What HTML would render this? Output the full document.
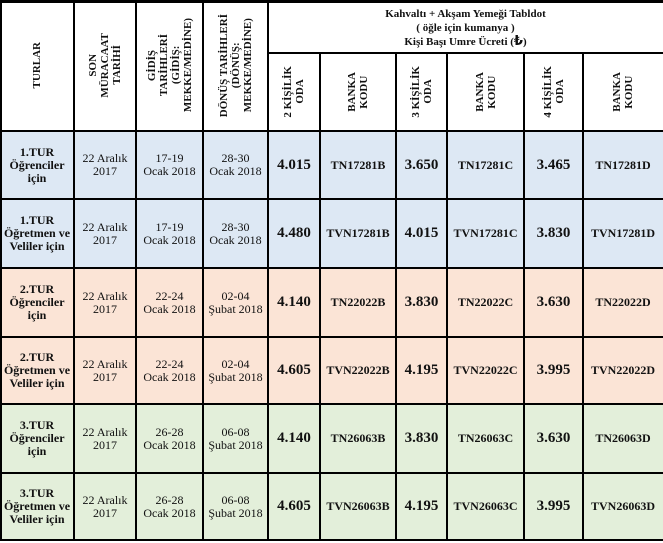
<!DOCTYPE html>
<html><head><meta charset="utf-8"><style>
body{margin:0;background:#fff;width:663px;height:543px;overflow:hidden;position:relative;font-family:"Liberation Serif",serif;font-weight:bold;color:#111}
.r{position:absolute;left:0;width:663px}
.c{position:absolute;top:0;height:100%;display:flex;align-items:center;justify-content:center;text-align:center;font-size:12px;line-height:13px}
.c0{left:0;width:74px}.c1{left:74px;width:62px}.c2{left:136px;width:67px}.c3{left:203px;width:65px}
.c4{left:268px;width:52px}.c5{left:320px;width:76px}.c6{left:396px;width:51px}.c7{left:447px;width:77px}
.c8{left:524px;width:59px}.c9{left:583px;width:80px}
.n{font-weight:normal}
.p{font-size:15px}
.v{writing-mode:vertical-rl;transform:rotate(180deg);font-size:11px;line-height:12px}
.b{background:#dde8f4}.s{background:#fbe4d6}.g{background:#e3efda}
.hl{position:absolute;background:#000;height:2px}
.vl{position:absolute;background:#000;width:2px}
.t{display:block;white-space:nowrap}
</style></head><body>
<div class="r" style="top:0;height:131px">
<div class="c c0"><span class="v">TURLAR</span></div>
<div class="c c1"><span class="v">SON<br>MÜRACAAT<br>TARİHİ</span></div>
<div class="c c2"><span class="v">GİDİŞ<br>TARİHLERİ<br>(GİDİŞ:<br>MEKKE/MEDİNE)</span></div>
<div class="c c3"><span class="v">DÖNÜŞ TARİHLERİ<br>(DÖNÜŞ:<br>MEKKE/MEDİNE)</span></div>
</div>
<div class="r" style="top:2px;height:51px"><div class="c" style="left:268px;width:395px;font-size:11px;line-height:14px;flex-direction:column"><span class="t">Kahvaltı + Akşam Yemeği Tabldot</span><span class="t">( öğle için kumanya )</span><span class="t">Kişi Başı Umre Ücreti (<span style="font-family:'DejaVu Sans',sans-serif;font-size:13px">₺</span>)</span></div></div>
<div class="r" style="top:53px;height:78px">
<div class="c c4"><span class="v">2 KİŞİLİK<br>ODA</span></div>
<div class="c c5"><span class="v">BANKA<br>KODU</span></div>
<div class="c c6"><span class="v">3 KİŞİLİK<br>ODA</span></div>
<div class="c c7"><span class="v">BANKA<br>KODU</span></div>
<div class="c c8"><span class="v">4 KİŞİLİK<br>ODA</span></div>
<div class="c c9"><span class="v">BANKA<br>KODU</span></div>
</div>

<div class="r b" style="top:131px;height:68px">
<div class="c c0">1.TUR<br>Öğrenciler<br>için</div><div class="c c1 n">22 Aralık<br>2017</div><div class="c c2 n">17-19<br>Ocak 2018</div><div class="c c3 n">28-30<br>Ocak 2018</div>
<div class="c c4 p">4.015</div><div class="c c5">TN17281B</div><div class="c c6 p">3.650</div><div class="c c7">TN17281C</div><div class="c c8 p">3.465</div><div class="c c9">TN17281D</div></div>
<div class="r b" style="top:199px;height:69px">
<div class="c c0">1.TUR<br>Öğretmen ve<br>Veliler için</div><div class="c c1 n">22 Aralık<br>2017</div><div class="c c2 n">17-19<br>Ocak 2018</div><div class="c c3 n">28-30<br>Ocak 2018</div>
<div class="c c4 p">4.480</div><div class="c c5">TVN17281B</div><div class="c c6 p">4.015</div><div class="c c7">TVN17281C</div><div class="c c8 p">3.830</div><div class="c c9">TVN17281D</div></div>
<div class="r s" style="top:268px;height:69px">
<div class="c c0">2.TUR<br>Öğrenciler<br>için</div><div class="c c1 n">22 Aralık<br>2017</div><div class="c c2 n">22-24<br>Ocak 2018</div><div class="c c3 n">02-04<br>Şubat 2018</div>
<div class="c c4 p">4.140</div><div class="c c5">TN22022B</div><div class="c c6 p">3.830</div><div class="c c7">TN22022C</div><div class="c c8 p">3.630</div><div class="c c9">TN22022D</div></div>
<div class="r s" style="top:337px;height:67px">
<div class="c c0">2.TUR<br>Öğretmen ve<br>Veliler için</div><div class="c c1 n">22 Aralık<br>2017</div><div class="c c2 n">22-24<br>Ocak 2018</div><div class="c c3 n">02-04<br>Şubat 2018</div>
<div class="c c4 p">4.605</div><div class="c c5">TVN22022B</div><div class="c c6 p">4.195</div><div class="c c7">TVN22022C</div><div class="c c8 p">3.995</div><div class="c c9">TVN22022D</div></div>
<div class="r g" style="top:404px;height:69px">
<div class="c c0">3.TUR<br>Öğrenciler<br>için</div><div class="c c1 n">22 Aralık<br>2017</div><div class="c c2 n">26-28<br>Ocak 2018</div><div class="c c3 n">06-08<br>Şubat 2018</div>
<div class="c c4 p">4.140</div><div class="c c5">TN26063B</div><div class="c c6 p">3.830</div><div class="c c7">TN26063C</div><div class="c c8 p">3.630</div><div class="c c9">TN26063D</div></div>
<div class="r g" style="top:473px;height:67px">
<div class="c c0">3.TUR<br>Öğretmen ve<br>Veliler için</div><div class="c c1 n">22 Aralık<br>2017</div><div class="c c2 n">26-28<br>Ocak 2018</div><div class="c c3 n">06-08<br>Şubat 2018</div>
<div class="c c4 p">4.605</div><div class="c c5">TVN26063B</div><div class="c c6 p">4.195</div><div class="c c7">TVN26063C</div><div class="c c8 p">3.995</div><div class="c c9">TVN26063D</div></div>

<div class="hl" style="top:0;left:0;width:663px;height:3px"></div>
<div class="hl" style="top:52px;left:268px;width:395px"></div>
<div class="hl" style="top:130px;left:0;width:663px"></div>
<div class="hl" style="top:198px;left:0;width:663px"></div>
<div class="hl" style="top:267px;left:0;width:663px"></div>
<div class="hl" style="top:336px;left:0;width:663px"></div>
<div class="hl" style="top:403px;left:0;width:663px"></div>
<div class="hl" style="top:472px;left:0;width:663px"></div>
<div class="hl" style="top:539px;left:0;width:663px"></div>
<div class="vl" style="left:0;top:0;height:541px"></div>
<div class="vl" style="left:73px;top:0;height:541px"></div>
<div class="vl" style="left:135px;top:0;height:541px"></div>
<div class="vl" style="left:202px;top:0;height:541px"></div>
<div class="vl" style="left:267px;top:0;height:541px"></div>
<div class="vl" style="left:319px;top:52px;height:489px"></div>
<div class="vl" style="left:395px;top:52px;height:489px"></div>
<div class="vl" style="left:446px;top:52px;height:489px"></div>
<div class="vl" style="left:523px;top:52px;height:489px"></div>
<div class="vl" style="left:582px;top:52px;height:489px"></div>
</body></html>
